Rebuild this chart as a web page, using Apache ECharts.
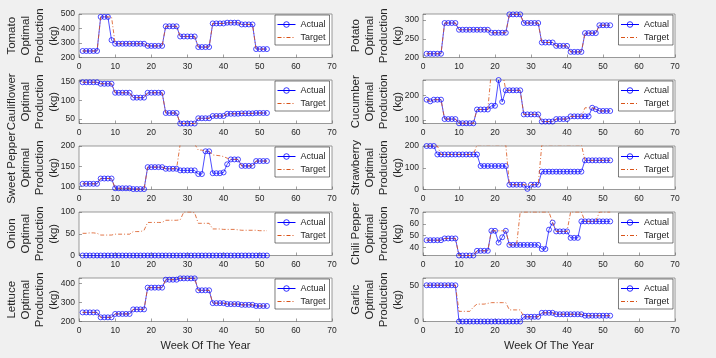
<!DOCTYPE html>
<html><head><meta charset="utf-8">
<script src="https://cdn.jsdelivr.net/npm/echarts@6/dist/echarts.min.js"></script>
<style>html,body{margin:0;padding:0;background:#f0f0f0}#c{width:716px;height:358px}</style>
</head><body><div id="c"></div>
<script>
const weeks = [1,2,3,4,5,6,7,8,9,10,11,12,13,14,15,16,17,18,19,20,21,22,23,24,25,26,27,28,29,30,31,32,33,34,35,36,37,38,39,40,41,42,43,44,45,46,47,48,49,50,51,52];
const xTicks = [0,10,20,30,40,50,60,70];

const tomatoActual = [245,245,245,245,245,480,480,480,320,295,295,295,295,295,295,295,295,295,280,280,280,280,280,415,415,415,415,345,345,345,345,345,272,272,272,272,435,435,435,435,440,440,440,440,428,428,428,428,258,258,258,258];
const tomatoTarget = [245,245,245,245,245,480,480,480,480,295,295,295,295,295,295,295,295,295,280,280,280,280,280,415,415,415,415,345,345,345,345,345,272,272,272,272,435,435,435,435,440,440,440,440,428,428,428,428,258,258,258,258];

const potatoActual = [210,210,210,210,210,292,292,292,292,274,274,274,274,274,274,274,274,274,266,266,266,266,266,315,315,315,315,292,292,292,292,292,240,240,240,240,231,231,231,231,215,215,215,215,265,265,265,265,286,286,286,286];
const potatoTarget = [210,210,210,210,210,292,292,292,292,274,274,274,274,274,274,274,274,274,266,266,266,266,266,315,315,315,315,292,292,292,292,292,240,240,240,240,231,231,231,231,215,215,215,215,265,265,265,265,286,286,286,286];

const cauliflowerActual = [148,148,148,148,148,144,144,144,144,120,120,120,120,120,107,107,107,107,120,120,120,120,120,66,66,66,66,38,38,38,38,38,52,52,52,52,58,58,58,58,64,64,64,64,65,65,65,65,66,66,66,66];
const cauliflowerTarget = [148,148,148,148,148,144,144,144,144,120,120,120,120,120,107,107,107,107,120,120,120,120,120,66,66,66,66,38,38,38,38,38,52,52,52,52,58,58,58,58,64,64,64,64,65,65,65,65,66,66,66,66];

const cucumberActual = [182,175,182,182,182,103,103,103,103,86,86,86,86,86,142,142,142,142,157,157,262,173,220,220,220,220,220,122,122,122,122,122,93,93,93,93,103,103,103,103,114,114,114,114,114,114,149,143,136,136,136,136];
const cucumberTarget = [182,175,182,182,182,103,103,103,103,86,86,86,86,86,142,142,142,142,300,300,300,300,220,220,220,220,220,122,122,122,122,122,93,93,93,93,103,103,103,103,114,114,114,114,149,149,149,143,136,136,136,136];

const sweetPepperActual = [107,107,107,107,107,120,120,120,120,96,96,96,96,96,94,94,94,94,148,148,148,148,148,144,144,144,144,140,140,140,140,140,131,131,187,187,133,133,133,135,155,167,167,167,151,151,151,151,163,163,163,163];
const sweetPepperTarget = [107,107,107,107,107,120,120,120,120,96,96,96,96,96,94,94,94,94,148,148,148,148,148,144,144,144,144,205,205,205,205,205,190,190,187,187,178,177,176,174,170,167,167,167,151,151,151,151,163,163,163,163];

const strawberryActual = [200,200,200,161,161,161,161,161,161,161,161,161,161,161,161,108,108,108,108,108,108,108,108,22,22,22,22,22,3,22,22,22,82,82,82,82,82,82,82,82,82,82,82,82,134,134,134,134,134,134,134,134];
const strawberryTarget = [200,200,200,200,161,161,161,161,161,161,161,161,161,161,205,205,205,205,205,205,205,205,205,22,22,22,22,22,22,22,22,22,205,205,205,205,205,205,205,205,205,205,205,205,134,134,134,134,134,134,134,134];

const onionActual = [0,0,0,0,0,0,0,0,0,0,0,0,0,0,0,0,0,0,0,0,0,0,0,0,0,0,0,0,0,0,0,0,0,0,0,0,0,0,0,0,0,0,0,0,0,0,0,0,0,0,0,0];
const onionTarget = [51,51,52,52,51,47,47,47,47,49,49,49,49,49,55,55,55,58,76,76,76,76,76,81,81,81,81,82,100,100,100,98,74,74,74,74,61,61,61,60,60,60,60,59,58,58,58,58,58,57,57,57];

const chiliActual = [46,46,46,46,46,47.5,47.5,47.5,47.5,33,33,33,33,33,37,37,37,37,54,54,44,48.5,54,42,42,42,42,42,42,42,42,42,38.5,38.5,55,61,53.5,53.5,53.5,53.5,48,48,48,62,62,62,62,62,62,62,62,62];
const chiliTarget = [46,46,46,46,46,47.5,47.5,47.5,47.5,33,33,33,33,33,37,37,37,37,54,54,54,54,54,42,42,42,70,70,70,70,70,70,70,70,70,61,53.5,53.5,53.5,53.5,70,70,70,70,62,62,62,62,70,70,70,70];

const lettuceActual = [248,248,248,248,248,222,222,222,222,240,240,240,240,240,264,264,264,264,379,379,379,379,379,421,421,421,421,428,428,428,428,428,365,365,365,365,297,297,297,297,292,292,292,292,288,288,288,288,282,282,282,282];
const lettuceTarget = [248,248,248,248,248,222,222,222,222,240,240,240,240,240,264,264,264,264,379,379,379,379,379,421,421,421,421,428,428,428,428,428,365,365,365,365,297,297,297,297,292,292,292,292,288,288,288,288,282,282,282,282];

const garlicActual = [50,50,50,50,50,50,50,50,50,0,0,0,0,0,0,0,0,0,0,0,0,0,0,0,0,0,0,6.5,6.5,6.5,6.5,6.5,12,12,12,12,10,10,10,10,10,10,10,10,8,8,8,8,8,8,8,8];
const garlicTarget = [50,50,50,50,50,50,50,50,50,14,14,14,14,20,24,24,24,25,26,26,26,26,26,16,16,16,16,6.5,6.5,6.5,6.5,6.5,12,12,12,12,10,10,10,10,10,10,10,10,8,8,8,8,8,8,8,8];

const cropNames = ['Tomato','Potato','Cauliflower','Cucumber','Sweet Pepper','Strawberry','Onion','Chili Pepper','Lettuce','Garlic'];
const actuals = [tomatoActual,potatoActual,cauliflowerActual,cucumberActual,sweetPepperActual,strawberryActual,onionActual,chiliActual,lettuceActual,garlicActual];
const targets = [tomatoTarget,potatoTarget,cauliflowerTarget,cucumberTarget,sweetPepperTarget,strawberryTarget,onionTarget,chiliTarget,lettuceTarget,garlicTarget];
const yMins = [200,200,38,85,93,0,0,33,200,0];
const yMaxs = [500,316,154,262,200,200,100,70,430,60];
const ySteps = [100,50,50,100,50,100,50,10,100,50];
const legendNames = ['Actual','Target'];
const xTitle = 'Week Of The Year';

const FONT = '"Liberation Sans", Arial, Helvetica, sans-serif';
const TXT = '#262626';
const BLUE = '#0000ff', ORANGE = '#d95319';
const grids = [], xAxes = [], yAxes = [], series = [], legends = [];
for (let i = 0; i < cropNames.length; i++) {
  const col = i % 2, row = Math.floor(i / 2);
  const left = col ? 423 : 79;
  const width = col ? 252 : 253;
  const top = Math.round(14 + row * 65.9);
  grids.push({left: left, top: top, width: width, height: 43.5, show: true,
    backgroundColor: '#ffffff', borderColor: '#808080', borderWidth: 0.8});
  xAxes.push({gridIndex: i, type: 'value', min: xTicks[0], max: xTicks[xTicks.length-1], interval: 10,
    splitLine: {show: false}, axisLine: {show: false},
    axisTick: {show: true, inside: true, length: 3, lineStyle: {color: '#606060', width: 0.6}},
    axisLabel: {fontSize: 8.5, color: TXT, margin: 5, fontFamily: FONT},
    name: row === 4 ? xTitle : '', nameLocation: 'middle', nameGap: 19, nameMoveOverlap: false,
    nameTextStyle: {fontSize: 11, color: TXT, fontFamily: FONT}});
  const step = ySteps[i];
  yAxes.push({gridIndex: i, type: 'value', min: yMins[i], max: yMaxs[i],
    minInterval: step, maxInterval: step,
    splitLine: {show: false}, axisLine: {show: false},
    axisTick: {show: true, inside: true, length: 3, lineStyle: {color: '#606060', width: 0.6}},
    axisLabel: {fontSize: 8.5, color: TXT, margin: 4, fontFamily: FONT,
      formatter: function (v) { const q = v / step; return Math.abs(q - Math.round(q)) < 1e-6 ? String(Math.round(v)) : ''; }},
    name: cropNames[i] + '\nOptimal\nProduction\n(kg)', nameLocation: 'middle', nameRotate: 90, nameGap: 18,
    nameMoveOverlap: false,
    nameTextStyle: {fontSize: 11.5, lineHeight: 14, color: TXT, fontFamily: FONT, align: 'center'}});
  series.push({type: 'line', name: legendNames[0], xAxisIndex: i, yAxisIndex: i,
    data: weeks.map((w, k) => [w, actuals[i][k]]),
    symbol: 'circle', symbolSize: 5, showSymbol: true, clip: true,
    lineStyle: {color: BLUE, width: 0.7},
    itemStyle: {color: 'rgba(255,255,255,0)', borderColor: BLUE, borderWidth: 0.7},
    emphasis: {disabled: true}, z: 2});
  series.push({type: 'line', name: legendNames[1], xAxisIndex: i, yAxisIndex: i,
    data: weeks.map((w, k) => [w, targets[i][k]]),
    symbol: 'none', showSymbol: false, clip: true,
    lineStyle: {color: ORANGE, width: 0.8, type: [4, 2, 1, 2]},
    itemStyle: {color: ORANGE},
    emphasis: {disabled: true}, z: 3});
  legends.push({
    data: [
      {name: legendNames[0], itemStyle: {color: 'rgba(255,255,255,0)', borderColor: BLUE, borderWidth: 0.8}},
      {name: legendNames[1], itemStyle: {color: ORANGE, borderWidth: 0, opacity: 0}}
    ],
    lineStyle: {width: 1},
    orient: 'vertical', selectedMode: false,
    right: col ? (716 - 673) : (716 - 329.5), top: top + 1,
    backgroundColor: '#ffffff', borderColor: '#262626', borderWidth: 0.6,
    padding: [5, 4, 3, 2], itemGap: 4, itemWidth: 18, itemHeight: 7,
    textStyle: {fontSize: 9, color: TXT, fontFamily: FONT}});
}

const chart = echarts.init(document.getElementById('c'), null, {renderer: 'canvas'});
chart.setOption({
  backgroundColor: '#f0f0f0',
  animation: false,
  textStyle: {fontFamily: FONT},
  grid: grids, xAxis: xAxes, yAxis: yAxes, series: series, legend: legends
});
</script></body></html>
